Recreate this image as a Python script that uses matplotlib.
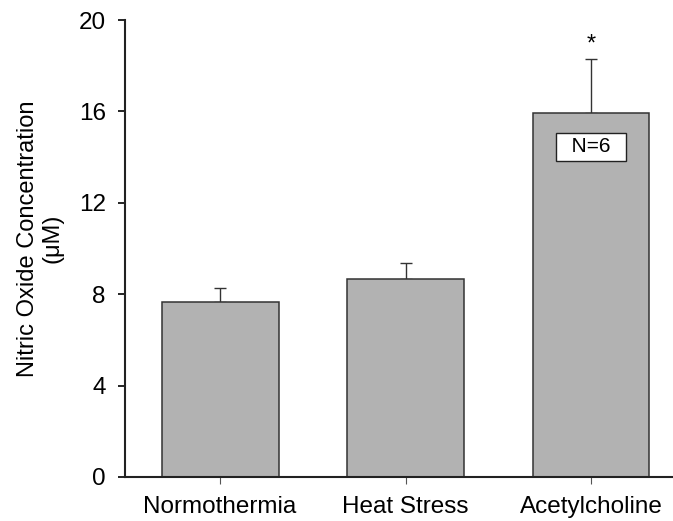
import numpy as np
import matplotlib.pyplot as plt

plt.rcParams['font.family'] = ['Liberation Sans', 'DejaVu Sans']

# values
groups = ['Normothermia', 'Heat Stress', 'Acetylcholine']
means = [7.64, 8.67, 15.92]
sems = [0.62, 0.69, 2.38]
y_ticks = [0, 4, 8, 12, 16, 20]

fig = plt.figure(figsize=(6.73, 5.21), dpi=100)
ax = fig.add_axes([0.186, 0.0845, 0.8125, 0.877])

x = np.arange(len(groups))
ax.bar(x, means, width=0.63, color='#b2b2b2', edgecolor='#333333', linewidth=1.1, zorder=2)
ax.errorbar(x, means, yerr=[np.zeros(len(sems)), sems], fmt='none',
            ecolor='#333333', elinewidth=1.0, capsize=4, capthick=1.0, zorder=1)

# significance marker and sample size box
ax.text(x[2], means[2] + sems[2] + 0.62, '*', ha='center', va='center', fontsize=17)
ax.text(x[2], 14.45, '  N=6  ', ha='center', va='center', fontsize=15,
        bbox=dict(boxstyle='square,pad=0.2', facecolor='white', edgecolor='#222222', linewidth=1.0),
        zorder=3)

ax.set_xlim(-0.512, 2.437)
ax.set_ylim(0, 20)
ax.set_yticks(y_ticks)
ax.set_xticks(x)
ax.set_xticklabels(groups, fontsize=17.5)
ax.tick_params(axis='y', labelsize=17.5, length=5, width=1.2, pad=9)
ax.tick_params(axis='x', length=5, width=0.8, pad=9, color='#555555')
ax.set_ylabel('Nitric Oxide Concentration\n(\u03bcM)', fontsize=17, linespacing=1.15)
ax.yaxis.set_label_coords(-0.112, 0.522)

for s in ['top', 'right']:
    ax.spines[s].set_visible(False)
for s in ['left', 'bottom']:
    ax.spines[s].set_linewidth(1.5)
    ax.spines[s].set_color('#222222')

fig.savefig('out.png', dpi=100)
